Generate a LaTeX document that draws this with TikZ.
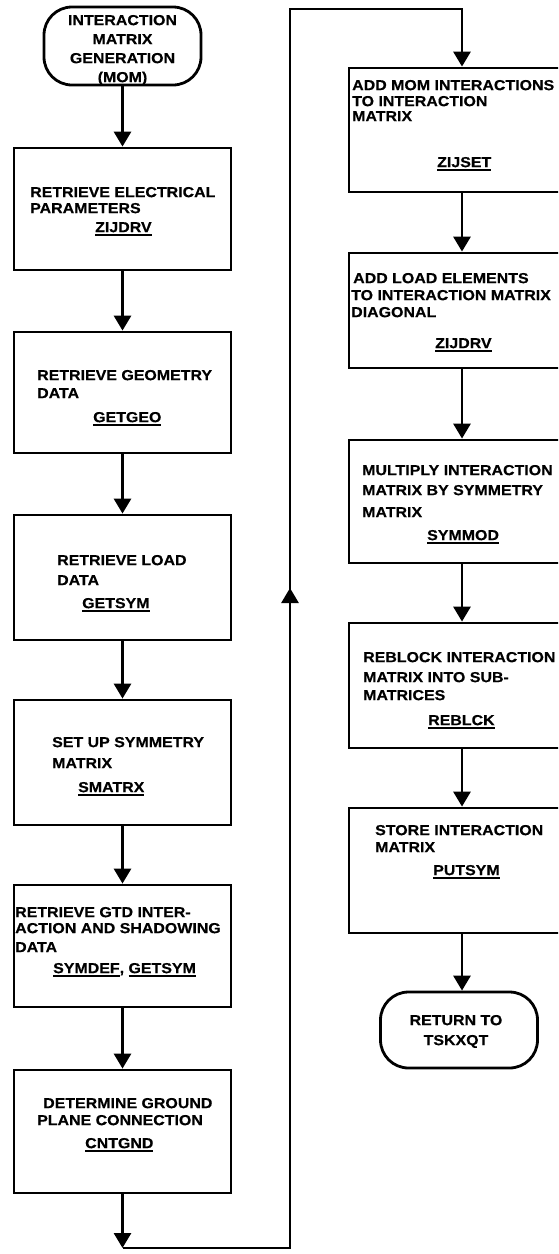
\documentclass[tikz,border=0pt]{standalone}
\usepackage{fontspec}
\newfontfamily\lblfont{Liberation Sans Bold}[FakeStretch=1.1, FakeBold=0.4]
\usetikzlibrary{arrows.meta}
% routine name with a heavy underline
\newcommand\routine[1]{\setbox0=\hbox{#1}\rlap{\rule[-3.5pt]{\wd0}{1.9pt}}\box0}

\begin{document}
\begin{tikzpicture}[x=1pt, y=-1pt,
  lbox/.style={draw, line width=2.8pt, inner sep=0pt, minimum width=217pt},
  rbox/.style={draw, line width=2.8pt, inner sep=0pt, minimum width=226pt},
  term/.style={draw, line width=2.8pt, inner sep=0pt, rounded corners=28pt, minimum width=157pt},
  txt/.style={font={\lblfont\fontsize{14.5}{18}\selectfont}, align=left, inner sep=0pt, anchor=north west},
  link/.style={line width=2.8pt},
  arr/.style={link, -{Triangle[width=17pt,length=15pt]}}
]
\useasboundingbox (0,0) rectangle (558,1254);
\clip (0,0) rectangle (558,1254);

% ---------- left column ----------
\node[term, minimum height=78pt] (start) at (122.5,46) {};
\node[txt, anchor=north, align=center] (tstart) at (122.5,14.8)
  {INTERACTION\\[1pt]MATRIX\\[1pt]GENERATION\\[1pt](MOM)};

\node[lbox, minimum height=122pt] (b1) at (122.5,209) {};
\node[txt] (t1) at (30,186.8)
  {RETRIEVE ELECTRICAL\\[-2pt]PARAMETERS\\[1pt]\hspace*{65pt}\routine{ZIJDRV}};

\node[lbox, minimum height=121pt] (b2) at (122.5,392.5) {};
\node[txt] (t2) at (37,369.8)
  {RETRIEVE GEOMETRY\\DATA\\[6pt]\hspace*{56pt}\routine{GETGEO}};

\node[lbox, minimum height=125pt] (b3) at (122.5,577.5) {};
\node[txt] (t3) at (57,554.8)
  {RETRIEVE LOAD\\[2pt]DATA\\[5pt]\hspace*{25pt}\routine{GETSYM}};

\node[lbox, minimum height=125pt] (b4) at (122.5,762.5) {};
\node[txt] (t4) at (52,736.8)
  {SET UP SYMMETRY\\[3pt]MATRIX\\[6pt]\hspace*{26pt}\routine{SMATRX}};

\node[lbox, minimum height=122pt] (b5) at (122.5,946) {};
\node[txt] (t5) at (15,906.8)
  {RETRIEVE GTD INTER-\\[-2pt]ACTION AND SHADOWING\\[1pt]DATA\\[3pt]\hspace*{38pt}\routine{SYMDEF}, \routine{GETSYM}};

\node[lbox, minimum height=123pt] (b6) at (122.5,1131.5) {};
\node[txt] (t6) at (37,1097.8)
  {\hspace*{6pt}DETERMINE GROUND\\[-1pt]PLANE CONNECTION\\[5pt]\hspace*{48pt}\routine{CNTGND}};

% ---------- right column ----------
\node[rbox, minimum height=124pt] (b7) at (462,130) {};
\node[txt] (t7) at (352,79.8)
  {ADD MOM INTERACTIONS\\[-2pt]TO INTERACTION\\[-3pt]MATRIX\\[28pt]\hspace*{85pt}\routine{ZIJSET}};

\node[rbox, minimum height=115pt] (b8) at (462,310.5) {};
\node[txt] (t8) at (351,272.8)
  {\hspace*{2pt}ADD LOAD ELEMENTS\\[-1pt]TO INTERACTION MATRIX\\[-1pt]DIAGONAL\\[13pt]\hspace*{84pt}\routine{ZIJDRV}};

\node[rbox, minimum height=123pt] (b9) at (462,501.5) {};
\node[txt] (t9) at (362,464.8)
  {MULTIPLY INTERACTION\\[2pt]MATRIX BY SYMMETRY\\[4pt]MATRIX\\[5pt]\hspace*{65pt}\routine{SYMMOD}};

\node[rbox, minimum height=125pt] (b10) at (462,685.5) {};
\node[txt] (t10) at (363,651.8)
  {REBLOCK INTERACTION\\[2pt]MATRIX INTO SUB-\\MATRICES\\[7pt]\hspace*{65pt}\routine{REBLCK}};

\node[rbox, minimum height=125pt] (b11) at (462,870.5) {};
\node[txt] (t11) at (375,824.8)
  {STORE INTERACTION\\[-1pt]MATRIX\\[5pt]\hspace*{58pt}\routine{PUTSYM}};

\node[term, minimum height=76pt] (end) at (459,1030) {};
\node[txt, anchor=north, align=center] (tend) at (456,1014.8)
  {RETURN TO\\[2pt]TSKXQT};

% ---------- connectors ----------
\draw[arr] (start.south) -- (b1.north);
\draw[arr] (b1.south) -- (b2.north);
\draw[arr] (b2.south) -- (b3.north);
\draw[arr] (b3.south) -- (b4.north);
\draw[arr] (b4.south) -- (b5.north);
\draw[arr] (b5.south) -- (b6.north);

\coordinate (c1) at (122.5,1248);
\coordinate (c2) at (290,1248);
\coordinate (c3) at (290,9);
\coordinate (c4) at (462,9);
\coordinate (cup) at (290,588);
\draw[arr] (b6.south) -- (c1);
\draw[arr] (c1) -- (c2) -- (c3) -- (c4) -- (b7.north);
\draw[arr] (c2) -- (cup);

\draw[arr] (b7.south) -- (b8.north);
\draw[arr] (b8.south) -- (b9.north);
\draw[arr] (b9.south) -- (b10.north);
\draw[arr] (b10.south) -- (b11.north);
\draw[arr] (b11.south) -- (b11.south |- end.north);
\end{tikzpicture}
\end{document}
